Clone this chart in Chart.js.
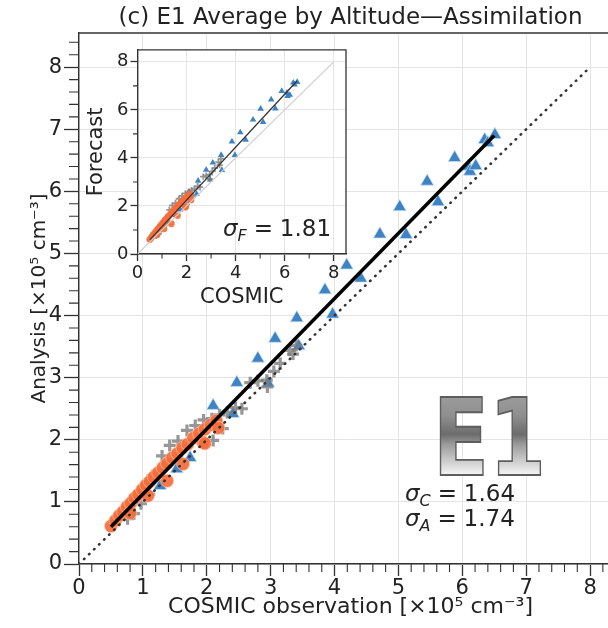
<!DOCTYPE html>
<html>
<head>
<meta charset="utf-8">
<script src="https://cdn.jsdelivr.net/npm/chart.js@4"></script>
<style>
body { margin: 0; background: #fff; }
#wrap { position: relative; width: 608px; height: 628px; overflow: hidden; }
#main { position: absolute; left: 0; top: 0; }
#inset { position: absolute; left: 80px; top: 37px; }
</style>
</head>
<body>
<div id="wrap">
  <canvas id="main" width="640" height="628" style="width:640px;height:628px"></canvas>
  <canvas id="inset" width="276" height="280" style="width:276px;height:280px"></canvas>
</div>
<script>
// COSMIC obs / analysis / forecast, x10^5 cm-3
var circleObs = [0.50, 0.57, 0.63, 0.69, 0.75, 0.81, 0.87, 0.93, 0.99, 1.05, 1.11, 1.17, 1.24, 1.31, 1.38, 1.46, 1.54, 1.62, 1.70, 1.79, 1.88, 1.97, 2.06, 2.15,
                 0.80, 1.08, 1.38, 1.63, 1.94, 2.18, 1.97];
var circleAna = [0.61, 0.70, 0.78, 0.84, 0.92, 0.98, 1.06, 1.12, 1.20, 1.27, 1.33, 1.40, 1.47, 1.55, 1.62, 1.71, 1.78, 1.87, 1.93, 2.03, 2.10, 2.17, 2.24, 2.31,
                 0.82, 1.10, 1.34, 1.61, 1.96, 2.19, 1.94];
var circleFcst = [0.60, 0.69, 0.78, 0.85, 0.93, 1.00, 1.08, 1.15, 1.23, 1.31, 1.38, 1.45, 1.54, 1.62, 1.70, 1.80, 1.89, 1.98, 2.06, 2.17, 2.26, 2.34, 2.42, 2.50,
                  0.80, 1.05, 1.26, 1.60, 1.95, 2.25, 1.98];

var crossObs = [0.60, 0.70, 0.76, 0.85, 0.86, 0.95, 0.97, 1.05, 1.10, 1.15, 1.30, 1.42, 1.55, 1.69, 1.82, 1.95, 2.08, 2.10, 2.20, 2.25, 2.32, 2.45, 2.55, 2.68, 2.80, 2.94, 2.95, 3.05, 3.15, 3.30, 3.35, 3.40];
var crossAna = [0.72, 0.86, 0.73, 1.05, 0.81, 1.16, 0.97, 1.28, 1.12, 1.42, 1.74, 1.91, 1.98, 2.15, 2.23, 2.32, 2.34, 1.99, 2.40, 2.18, 2.44, 2.52, 2.50, 2.92, 2.95, 2.96, 2.85, 3.10, 3.23, 3.44, 3.38, 3.52];
var crossFcst = [0.74, 0.90, 0.76, 1.10, 0.84, 1.22, 1.02, 1.35, 1.18, 1.50, 1.84, 2.02, 2.12, 2.30, 2.42, 2.52, 2.56, 2.16, 2.66, 2.40, 2.72, 2.82, 2.78, 3.22, 3.26, 3.30, 3.12, 3.44, 3.58, 3.82, 3.70, 3.96];

var triObs = [1.27, 1.53, 1.74, 2.10, 2.41, 2.47, 2.80, 2.96, 3.07, 3.41, 3.44, 3.85, 3.97, 4.19, 4.41, 4.71, 5.02, 5.12, 5.45, 5.62, 5.88, 6.09, 6.12, 6.21, 6.35, 6.40, 6.51];
var triAna = [1.26, 1.53, 1.71, 2.55, 2.42, 2.92, 3.31, 2.91, 3.63, 3.96, 3.51, 4.41, 4.02, 4.81, 4.60, 5.31, 5.75, 5.30, 6.16, 5.83, 6.54, 6.40, 6.32, 6.41, 6.83, 6.78, 6.91];
var triFcst = [1.30, 1.62, 1.85, 2.60, 2.50, 3.05, 3.50, 3.10, 3.80, 4.12, 3.49, 4.68, 4.12, 5.06, 4.75, 5.59, 6.04, 5.49, 6.43, 6.05, 6.78, 6.71, 6.57, 6.62, 7.13, 7.05, 7.16];

var fitObs = [0.5, 6.5];
var fitAna = [0.60, 6.90];
var fitFcst = [0.59, 7.20];
var oneToOne = [0, 8];

var mainTicks = [0, 1, 2, 3, 4, 5, 6, 7, 8];
var insetTicks = [0, 2, 4, 6, 8];

var titleText = '(c) E1 Average by Altitude\u2014Assimilation';
var sigmaC = '1.64', sigmaA = '1.74', sigmaF = '1.81';

var FONT = 'DejaVu Sans';
var orange = 'rgba(246,108,58,0.92)';
var blue = 'rgba(52,124,192,0.95)';
var grey = 'rgba(125,125,125,0.8)';

function pts(xs, ys) {
    return xs.map(function (v, i) { return { x: v, y: ys[i] }; });
}

function minorList(step, max, skip) {
    var out = [];
    for (var v = step; v <= max + 1e-9; v += step) {
        var r = Math.round(v * 10) / 10;
        if (Math.abs(r / skip - Math.round(r / skip)) > 1e-6) out.push(r);
    }
    return out;
}

// white plot area, frame and minor ticks
var framePlugin = {
    id: 'frame',
    beforeDraw: function (chart) {
        var a = chart.chartArea, ctx = chart.ctx;
        ctx.save();
        ctx.fillStyle = '#fff';
        ctx.fillRect(a.left, a.top, a.right - a.left, a.bottom - a.top);
        ctx.restore();
    },
    afterDraw: function (chart, args, opts) {
        var a = chart.chartArea, ctx = chart.ctx;
        var xs = chart.scales.x, ys = chart.scales.y;
        ctx.save();
        ctx.strokeStyle = '#333';
        ctx.lineWidth = opts.width;
        ctx.beginPath();
        ctx.moveTo(a.left, a.top); ctx.lineTo(a.right, a.top); ctx.lineTo(a.right, a.bottom);
        ctx.stroke();
        ctx.lineWidth = 1.1;
        ctx.beginPath();
        opts.minor.forEach(function (v) {
            var px = xs.getPixelForValue(v);
            ctx.moveTo(px, a.bottom); ctx.lineTo(px, a.bottom + opts.lenX);
            var py = ys.getPixelForValue(v);
            if (py >= a.top) {
                ctx.moveTo(a.left, py); ctx.lineTo(a.left - opts.lenY, py);
            }
        });
        ctx.stroke();
        ctx.restore();
    }
};

function sigmaText(ctx, x, y, sub, val, size) {
    ctx.fillStyle = '#222';
    ctx.textBaseline = 'alphabetic';
    ctx.textAlign = 'left';
    ctx.font = 'italic ' + size + 'px ' + FONT;
    ctx.fillText('\u03c3', x, y);
    x += ctx.measureText('\u03c3').width;
    ctx.font = 'italic ' + Math.round(size * 0.7) + 'px ' + FONT;
    ctx.fillText(sub, x, y + size * 0.22);
    x += ctx.measureText(sub).width + size * 0.3;
    ctx.font = size + 'px ' + FONT;
    ctx.fillText('=', x, y);
    x += ctx.measureText('=').width + size * 0.3;
    ctx.fillText(val, x, y);
}

var mainText = {
    id: 'mainText',
    afterDraw: function (chart) {
        var ctx = chart.ctx, a = chart.chartArea;
        ctx.save();
        ctx.fillStyle = '#222';
        ctx.font = '23px ' + FONT;
        ctx.textAlign = 'center';
        ctx.textBaseline = 'middle';
        ctx.fillText(titleText, (a.left + a.right) / 2, 18);
        sigmaText(ctx, 405, 501, 'C', sigmaC, 23);
        sigmaText(ctx, 405, 526, 'A', sigmaA, 23);
        // E1 logo
        ctx.font = 'bold 107px ' + FONT;
        var w = ctx.measureText('E1').width;
        var sx = 113 / w;
        ctx.translate(433, 475);
        ctx.scale(sx, 1);
        var g = ctx.createLinearGradient(0, -78, 0, 0);
        g.addColorStop(0, '#9c9c9c');
        g.addColorStop(0.25, '#8e8e8e');
        g.addColorStop(0.48, '#6c6c6c');
        g.addColorStop(0.6, '#999999');
        g.addColorStop(1, '#f6f6f6');
        ctx.fillStyle = g;
        ctx.textAlign = 'left';
        ctx.textBaseline = 'alphabetic';
        ctx.fillText('E1', 0, 0);
        ctx.strokeStyle = '#5e5e5e';
        ctx.lineWidth = 1.8;
        ctx.strokeText('E1', 0, 0);
        ctx.restore();
    }
};

var insetText = {
    id: 'insetText',
    afterDraw: function (chart) {
        var ctx = chart.ctx;
        ctx.save();
        sigmaText(ctx, 143, 199, 'F', sigmaF, 23);
        ctx.restore();
    }
};

function axis(ticks, max, tickSize, tickLen, tickPad, gridColor, title, titleSize, titlePad, fixed, horiz) {
    return {
        type: 'linear',
        min: 0,
        max: max,
        afterBuildTicks: function (s) { s.ticks = ticks.map(function (v) { return { value: v }; }); },
        afterFit: function (s) { if (horiz) s.height = fixed; else s.width = fixed; },
        ticks: { color: '#222', font: { family: FONT, size: tickSize }, padding: tickPad, maxRotation: 0, autoSkip: false },
        grid: { color: gridColor, lineWidth: 1, tickColor: '#333', tickLength: tickLen, tickWidth: 1.3 },
        border: { display: true, color: '#333', width: 1.4 },
        title: { display: true, text: title, color: '#222', font: { family: FONT, size: titleSize }, padding: titlePad }
    };
}

new Chart(document.getElementById('main'), {
    type: 'scatter',
    data: {
        datasets: [
            { data: pts(fitObs, fitAna), showLine: true, borderColor: '#000', borderWidth: 3.5, pointRadius: 0 },
            { data: pts(oneToOne, oneToOne), showLine: true, borderColor: '#333', borderWidth: 2.6,
              borderDash: [0.5, 6.5], borderCapStyle: 'round', pointRadius: 0 },
            { data: pts(circleObs, circleAna), pointStyle: 'circle', pointRadius: 6.5, backgroundColor: orange,
              borderColor: 'rgba(255,200,180,0.8)', borderWidth: 0.8 },
            { data: pts(crossObs, crossAna), pointStyle: 'cross', pointRadius: 6, borderColor: grey, borderWidth: 3.2 },
            { data: pts(triObs, triAna), pointStyle: 'triangle', pointRadius: 7.5, backgroundColor: blue,
              borderColor: 'rgba(200,225,245,0.9)', borderWidth: 0.8 }
        ]
    },
    options: {
        responsive: false,
        animation: false,
        layout: { padding: { left: 0, right: 18, top: 33, bottom: 0 } },
        plugins: {
            legend: { display: false },
            tooltip: { enabled: false },
            frame: { width: 1.4, lenX: 8, lenY: 10, minor: minorList(0.2, 8.4, 1) }
        },
        scales: {
            x: axis(mainTicks, 8.5, 21, 12, 0, '#e4e4e4', 'COSMIC observation [\u00d710\u2075 cm\u207b\u00b3]', 22, { top: 2, bottom: 8 }, 64, true),
            y: axis(mainTicks, 8.55, 21, 15, 2, '#e4e4e4', 'Analysis [\u00d710\u2075 cm\u207b\u00b3]', 20, { top: 28, bottom: 0 }, 79, false)
        }
    },
    plugins: [framePlugin, mainText]
});

new Chart(document.getElementById('inset'), {
    type: 'scatter',
    data: {
        datasets: [
            { data: pts(fitObs, fitFcst), showLine: true, borderColor: '#333', borderWidth: 1.3, pointRadius: 0 },
            { data: pts(oneToOne, oneToOne), showLine: true, borderColor: '#cfcfcf', borderWidth: 1.2, pointRadius: 0 },
            { data: pts(circleObs, circleFcst), pointStyle: 'circle', pointRadius: 3.4, backgroundColor: orange, borderWidth: 0 },
            { data: pts(crossObs, crossFcst), pointStyle: 'cross', pointRadius: 3.2, borderColor: grey, borderWidth: 1.8 },
            { data: pts(triObs, triFcst), pointStyle: 'triangle', pointRadius: 3.8, backgroundColor: blue, borderWidth: 0 }
        ]
    },
    options: {
        responsive: false,
        animation: false,
        layout: { padding: { left: 0, right: 10, top: 12, bottom: 0 } },
        plugins: {
            legend: { display: false },
            tooltip: { enabled: false },
            frame: { width: 1.3, lenX: 4.5, lenY: 4.5, minor: [1, 3, 5, 7] }
        },
        scales: {
            x: axis(insetTicks, 8.5, 18, 7, 2, '#e6e6e6', 'COSMIC', 21, { top: 0, bottom: 7 }, 63, true),
            y: axis(insetTicks, 8.5, 18, 7, 2, '#e6e6e6', 'Forecast', 21, { top: 4, bottom: 0 }, 57.5, false)
        }
    },
    plugins: [framePlugin, insetText]
});
</script>
</body>
</html>
